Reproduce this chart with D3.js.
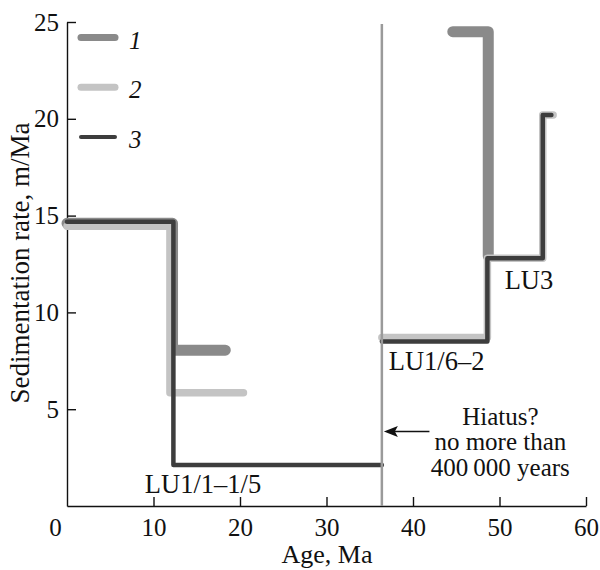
<!DOCTYPE html>
<html>
<head>
<meta charset="utf-8">
<script src="https://cdn.jsdelivr.net/npm/d3@7"></script>
<style>
  body { margin: 0; background: #fff; }
  svg text { font-family: "Liberation Serif", "DejaVu Serif", serif; fill: #111; }
</style>
</head>
<body>
<svg id="chart" width="600" height="570"></svg>
<script>
// step breakpoints [age, rate]; each series drawn with curveStepAfter
const series1 = [
  [[0, 14.6], [12.2, 8.05], [18.3, 8.05]],
  [[44.6, 24.5], [48.7, 12.9]]
];
const series2 = [
  [[0, 14.45], [11.9, 5.85], [20.4, 5.85]],
  [[36.4, 8.7], [48.6, 12.8], [55.0, 20.2], [56.2, 20.2]]
];
const series3 = [
  [[0, 14.68], [12.3, 2.12], [36.4, 2.12]],
  [[36.4, 8.5], [48.6, 12.8], [55.0, 20.2], [56.0, 20.2]]
];
const legendLabels = ['1', '2', '3'];
const xTicks = [0, 10, 20, 30, 40, 50, 60];
const yTicks = [5, 10, 15, 20, 25];
const hiatusAge = 36.4;
const hiatusText = ['Hiatus?', 'no more than', '400\u2009000 years'];
const unitLabels = [
  { text: 'LU1/1\u20131/5', age: 9.0, rate: 0.68 },
  { text: 'LU1/6\u20132', age: 37.2, rate: 7.05 },
  { text: 'LU3', age: 50.6, rate: 11.2 }
];

const width = 600, height = 570;
const margin = { top: 22, right: 14, bottom: 64, left: 67 };

const svg = d3.select('#chart');

const x = d3.scaleLinear().domain([0, 60]).range([margin.left, width - margin.right]);
const y = d3.scaleLinear().domain([0, 25]).range([height - margin.bottom, margin.top]);

const styles = [
  { data: series1, color: '#8a8a8a', w: 11 },
  { data: series2, color: '#c4c4c4', w: 7.5 },
  { data: series3, color: '#3d3d3d', w: 4.5 }
];

const line = d3.line()
  .x(d => x(d[0]))
  .y(d => y(d[1]))
  .curve(d3.curveStepAfter);

// axes
const xAxis = svg.append('g')
  .attr('transform', 'translate(0,' + y(0) + ')')
  .call(d3.axisBottom(x).tickValues(xTicks).tickSize(-9).tickSizeOuter(0).tickPadding(12));
xAxis.selectAll('.tick').filter(d => d === 0).select('line').remove();
xAxis.selectAll('.tick').filter(d => d === 0).select('text').attr('dx', -12);

const yAxis = svg.append('g')
  .attr('transform', 'translate(' + x(0) + ',0)')
  .call(d3.axisLeft(y).tickValues(yTicks).tickSize(-9).tickSizeOuter(0).tickPadding(8));

svg.selectAll('.domain, .tick line').attr('stroke', '#111').attr('stroke-width', 1.4);
svg.selectAll('.tick text')
  .attr('font-size', 25)
  .style('font-family', '"Liberation Serif", serif')
  .attr('fill', '#111');

// series
styles.forEach(s => {
  svg.append('g').selectAll('path')
    .data(s.data)
    .join('path')
    .attr('d', line)
    .attr('fill', 'none')
    .attr('stroke', s.color)
    .attr('stroke-width', s.w)
    .attr('stroke-linecap', 'round')
    .attr('stroke-linejoin', 'round');
});

// hiatus line
svg.append('line')
  .attr('x1', x(hiatusAge)).attr('x2', x(hiatusAge))
  .attr('y1', y(24.9)).attr('y2', y(0))
  .attr('stroke', '#9a9a9a')
  .attr('stroke-width', 2.5);

// arrow
const arrowY = y(3.85);
svg.append('line')
  .attr('x1', x(41.9)).attr('x2', x(hiatusAge) + 12)
  .attr('y1', arrowY).attr('y2', arrowY)
  .attr('stroke', '#111').attr('stroke-width', 1.6);
svg.append('path')
  .attr('d', d3.line()([[x(hiatusAge) + 2, arrowY], [x(hiatusAge) + 16, arrowY - 5.5], [x(hiatusAge) + 13, arrowY], [x(hiatusAge) + 16, arrowY + 5.5]]) + 'Z')
  .attr('fill', '#111');

svg.append('g').selectAll('text')
  .data(hiatusText)
  .join('text')
  .attr('x', x(50.1))
  .attr('y', (d, i) => y(4.2) + i * 25.5)
  .attr('text-anchor', 'middle')
  .attr('font-size', 25)
  .text(d => d);

// unit labels
svg.append('g').selectAll('text')
  .data(unitLabels)
  .join('text')
  .attr('x', d => x(d.age))
  .attr('y', d => y(d.rate))
  .attr('font-size', 26.5)
  .text(d => d.text);

// legend
const legend = svg.append('g').selectAll('g')
  .data(styles)
  .join('g')
  .attr('transform', (d, i) => 'translate(0,' + (37.5 + i * 49.7) + ')');
legend.append('line')
  .attr('x1', 81).attr('x2', 115)
  .attr('stroke', d => d.color)
  .attr('stroke-width', (d, i) => i === 2 ? 4 : 7)
  .attr('stroke-linecap', 'round');
legend.append('text')
  .attr('x', 129).attr('y', 11)
  .attr('font-size', 25)
  .attr('font-style', 'italic')
  .text((d, i) => legendLabels[i]);

// axis titles
svg.append('text')
  .attr('x', 327)
  .attr('y', 563)
  .attr('text-anchor', 'middle')
  .attr('font-size', 26)
  .text('Age, Ma');

svg.append('text')
  .attr('transform', 'translate(29,' + 263 + ') rotate(-90)')
  .attr('text-anchor', 'middle')
  .attr('font-size', 27)
  .text('Sedimentation rate, m/Ma');
</script>
</body>
</html>
